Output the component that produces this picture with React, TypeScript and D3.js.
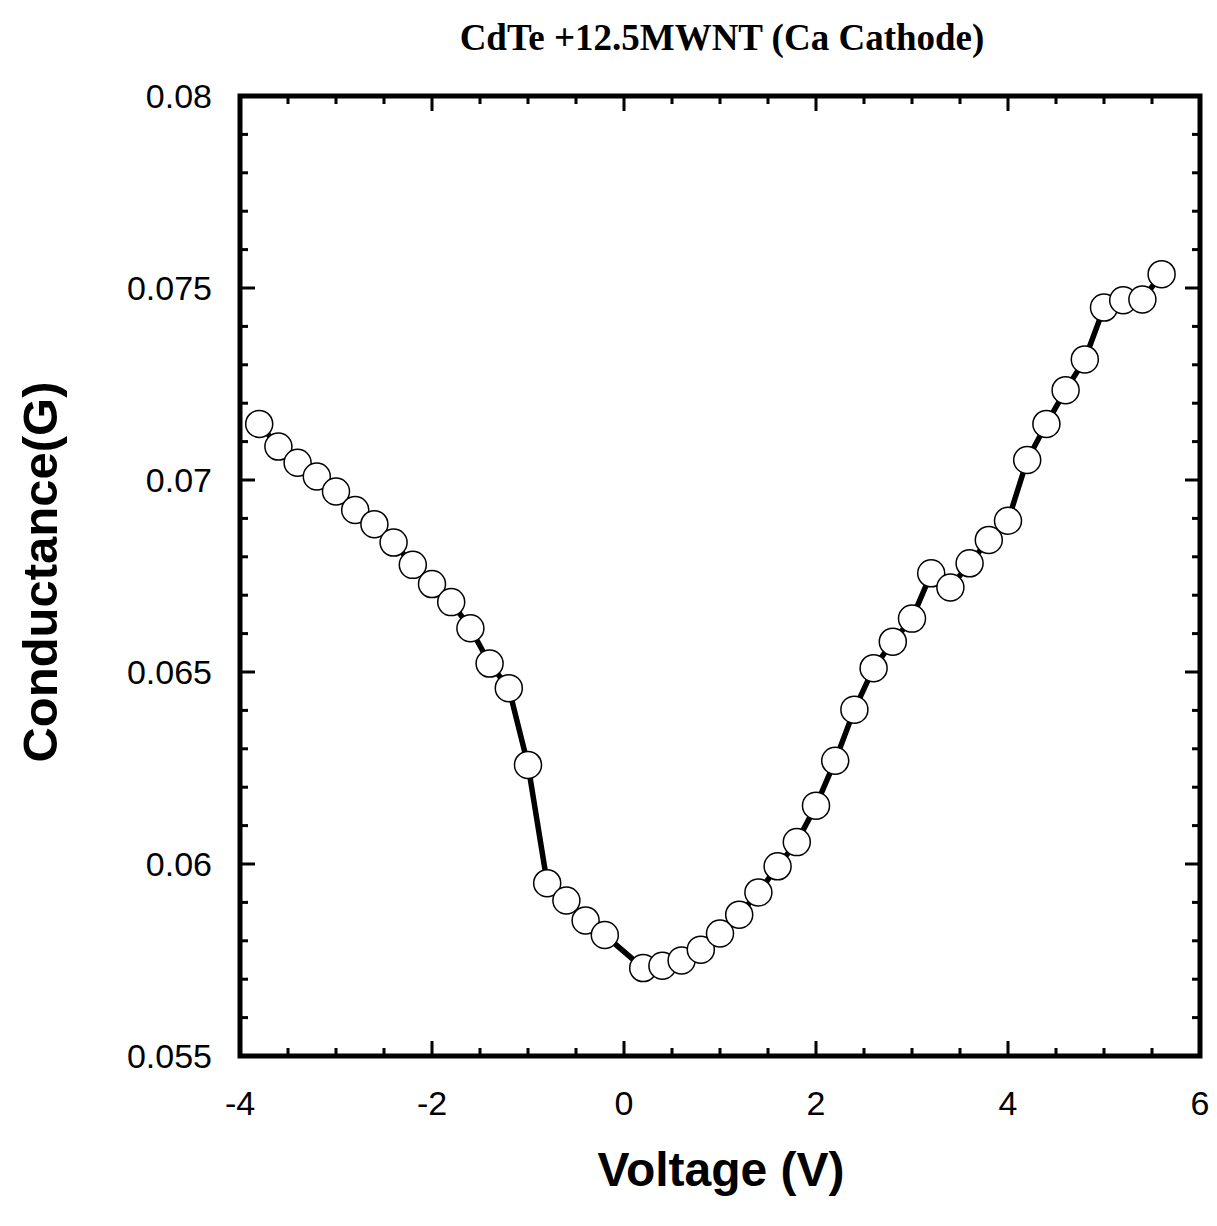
import React from "react";
import * as d3 from "d3";

const voltage = [
  -3.8, -3.6, -3.4, -3.2, -3.0, -2.8, -2.6, -2.4, -2.2, -2.0, -1.8, -1.6, -1.4, -1.2, -1.0,
  -0.8, -0.6, -0.4, -0.2, 0.2, 0.4, 0.6, 0.8, 1.0, 1.2, 1.4, 1.6, 1.8, 2.0, 2.2,
  2.4, 2.6, 2.8, 3.0, 3.2, 3.4, 3.6, 3.8, 4.0, 4.2, 4.4, 4.6, 4.8, 5.0, 5.2, 5.4, 5.6,
];
const conductance = [
  0.07146, 0.07087, 0.07045, 0.07009, 0.0697, 0.06922, 0.06885, 0.06837, 0.06779, 0.06729,
  0.06682, 0.06614, 0.06522, 0.06458, 0.06258,
  0.0595, 0.05905, 0.05853, 0.05815, 0.05729, 0.05735, 0.05749, 0.05777, 0.05819, 0.05868,
  0.05926, 0.05994, 0.06057, 0.06152, 0.06269,
  0.06402, 0.0651, 0.06579, 0.06639, 0.06757, 0.0672, 0.06783, 0.06844, 0.06894, 0.07052,
  0.07146, 0.07234, 0.07314, 0.07449, 0.07468, 0.0747, 0.07536,
];
const xMajorTicks = [-4, -2, 0, 2, 4, 6];
const yMajorTicks = [0.055, 0.06, 0.065, 0.07, 0.075, 0.08];
const yTickLabels = ["0.055", "0.06", "0.065", "0.07", "0.075", "0.08"];
const title = "CdTe +12.5MWNT (Ca Cathode)";
const xTitle = "Voltage (V)";
const yTitle = "Conductance(G)";

export default function App() {
  const W = 1217, H = 1226;
  const L = 240, R = 1200, T = 96, B = 1056;
  const x = d3.scaleLinear().domain([-4, 6]).range([L, R]);
  const y = d3.scaleLinear().domain([0.055, 0.08]).range([B, T]);
  const pts = voltage.map((v, i) => [v, conductance[i]] as [number, number]);
  const line = d3.line<[number, number]>().x((d) => x(d[0])).y((d) => y(d[1]));
  const xMinor = d3.range(-4, 6.001, 0.5).filter((v) => !xMajorTicks.some((m) => Math.abs(m - v) < 1e-6));
  const yMinor = d3.range(0.055, 0.08001, 0.001).filter((v) => !yMajorTicks.some((m) => Math.abs(m - v) < 1e-7));
  const font = "Arial, 'Liberation Sans', Helvetica, sans-serif";
  return (
    <svg width={W} height={H} style={{ position: "absolute", left: 0, top: 0, background: "#fff" }}>
      <rect x={0} y={0} width={W} height={H} fill="#fff" />
      <text x={722} y={50} textAnchor="middle" fontFamily="'Times New Roman', 'Liberation Serif', serif" fontWeight="bold" fontSize={37}>{title}</text>
      {/* ticks */}
      <g stroke="#000" strokeWidth={3}>
        {xMajorTicks.map((v) => (
          <g key={"xM" + v}>
            <line x1={x(v)} x2={x(v)} y1={B} y2={B - 15} />
            <line x1={x(v)} x2={x(v)} y1={T} y2={T + 15} />
          </g>
        ))}
        {xMinor.map((v) => (
          <g key={"xm" + v}>
            <line x1={x(v)} x2={x(v)} y1={B} y2={B - 8} />
            <line x1={x(v)} x2={x(v)} y1={T} y2={T + 8} />
          </g>
        ))}
        {yMajorTicks.map((v) => (
          <g key={"yM" + v}>
            <line x1={L} x2={L + 15} y1={y(v)} y2={y(v)} />
            <line x1={R} x2={R - 15} y1={y(v)} y2={y(v)} />
          </g>
        ))}
        {yMinor.map((v) => (
          <g key={"ym" + v}>
            <line x1={L} x2={L + 8} y1={y(v)} y2={y(v)} />
            <line x1={R} x2={R - 8} y1={y(v)} y2={y(v)} />
          </g>
        ))}
      </g>
      <rect x={L} y={T} width={R - L} height={B - T} fill="none" stroke="#000" strokeWidth={5} />
      {/* data */}
      <path d={line(pts) || ""} fill="none" stroke="#000" strokeWidth={5.5} strokeLinejoin="round" />
      {pts.map((d, i) => (
        <circle key={i} cx={x(d[0])} cy={y(d[1])} r={13.5} fill="#fff" stroke="#000" strokeWidth={1.5} />
      ))}
      {/* tick labels */}
      <g fontFamily={font} fontSize={34} fill="#000">
        {xMajorTicks.map((v) => (
          <text key={"xl" + v} x={x(v)} y={1115} textAnchor="middle">{String(v)}</text>
        ))}
        {yMajorTicks.map((v, i) => (
          <text key={"yl" + v} x={212} y={y(v) + 12} textAnchor="end">{yTickLabels[i]}</text>
        ))}
      </g>
      <text x={721} y={1186} textAnchor="middle" fontFamily={font} fontWeight="bold" fontSize={48}>{xTitle}</text>
      <text transform={`translate(57,${572}) rotate(-90)`} textAnchor="middle" fontFamily={font} fontWeight="bold" fontSize={49}>{yTitle}</text>
    </svg>
  );
}
